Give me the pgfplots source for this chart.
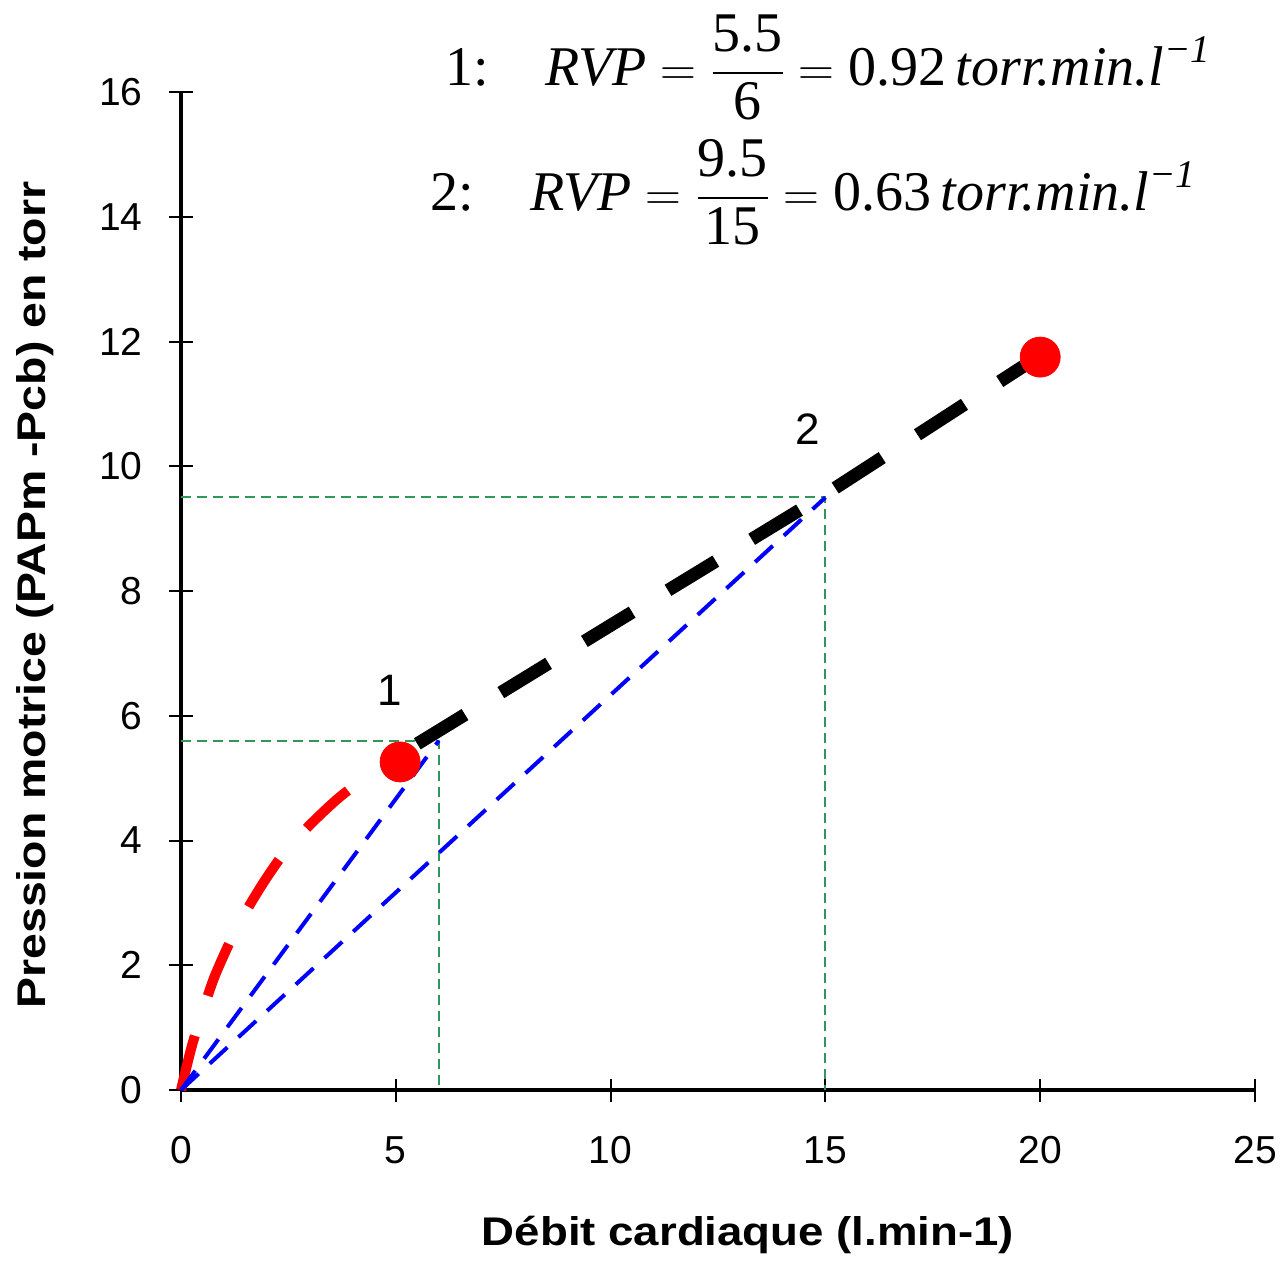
\documentclass[border=0pt]{standalone}
\usepackage{amsmath}
\usepackage{pgfplots}
\pgfplotsset{compat=1.18}
\usepackage{fontspec}
\setmainfont{Liberation Sans}
\newfontfamily\timesf{Liberation Serif}
\definecolor{gr}{RGB}{50,150,90}
\begin{document}
\begin{tikzpicture}
\useasboundingbox (-90.5pt,-85pt) rectangle (551pt,545pt);
\begin{axis}[
  at={(0,0)}, anchor=south west,
  scale only axis, width=537pt, height=499pt,
  xmin=0, xmax=25, ymin=0, ymax=16,
  axis x line=bottom, axis y line=left,
  axis line style={-, line width=1.8pt},
  xtick={0,5,...,25}, ytick={0,2,...,16},
  tick align=center, major tick length=11.5pt,
  tick style={black, line width=1pt},
  /pgf/number format/assume math mode=true,
  ticklabel style={font=\fontsize{19.5}{22}\selectfont},
  xticklabel style={yshift=-14pt},
  yticklabel style={xshift=-10pt},
  xlabel={\scalebox{1.14}[1]{\bfseries Débit cardiaque (l.min-1)}},
  xlabel style={font=\fontsize{20}{24}\selectfont, at={(rel axis cs:0.5,0)}, anchor=center, xshift=15pt, yshift=-72.5pt},
  ylabel={\scalebox{1.16}[1]{\bfseries Pression motrice (PAPm -Pcb) en torr}},
  ylabel style={font=\fontsize{20}{24}\selectfont, at={(rel axis cs:0,0.496)}, anchor=center, yshift=73pt},
  clip=false,
]
% green guides
\addplot[gr, line width=1pt, dash pattern=on 5pt off 3pt] coordinates {(0,5.6) (6,5.6) (6,0)};
\addplot[gr, line width=1pt, dash pattern=on 5pt off 3pt] coordinates {(0,9.5) (15,9.5) (15,0)};
% red curve
\addplot[red, line width=5pt, dash pattern=on 28pt off 21pt, smooth] coordinates {
(0,0) (0.25,0.7) (0.5,1.25) (0.8,1.85) (1.3,2.6) (1.85,3.25) (2.4,3.8) (3,4.25) (3.7,4.7) (4.4,5.05) (5.1,5.26)};
% red dots
\addplot[only marks, mark=*, mark size=10pt, red, mark options={draw=red, fill=red}] coordinates {(5.1,5.26) (20,11.75)};
% black dashed
\addplot[black, line width=6.5pt, dash pattern=on 28pt off 21pt] coordinates {
(5.5,5.55) (10,7.45) (15,9.55) (19.6,11.6)};
% blue
\addplot[blue, line width=2pt, dash pattern=on 12pt off 7.5pt] coordinates {(0,0) (6,5.6)};
\addplot[blue, line width=2pt, dash pattern=on 12pt off 7.5pt] coordinates {(0,0) (15,9.5)};
% labels
\node[font=\fontsize{22}{26}\selectfont] at (axis cs:4.86,6.41) {1};
\node[font=\fontsize{22}{26}\selectfont] at (axis cs:14.6,10.6) {2};
\node[anchor=west, inner sep=0pt, font=\fontsize{28}{32}\selectfont] at (axis cs:6.15,16.39)
 {$\displaystyle \text{\timesf 1:}\quad \text{\timesf\itshape RVP} = \frac{\text{\timesf 5.5}}{\text{\timesf 6}} = \text{\timesf 0.92\,\itshape torr.min.l}^{\text{\timesf\itshape −1}}$};
\node[anchor=west, inner sep=0pt, font=\fontsize{28}{32}\selectfont] at (axis cs:5.80,14.39)
 {$\displaystyle \text{\timesf 2:}\quad \text{\timesf\itshape RVP} = \frac{\text{\timesf 9.5}}{\text{\timesf 15}} = \text{\timesf 0.63\,\itshape torr.min.l}^{\text{\timesf\itshape −1}}$};
\end{axis}
\end{tikzpicture}
\end{document}
